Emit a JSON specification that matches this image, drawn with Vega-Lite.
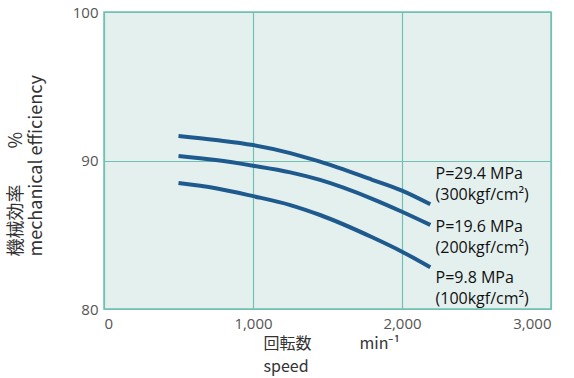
{
  "$schema": "https://vega.github.io/schema/vega-lite/v6.json",
  "width": 447,
  "height": 297,
  "autosize": {"type": "none"},
  "padding": {"left": 104, "top": 12, "right": 23, "bottom": 69},
  "background": "white",
  "config": {
    "view": {"fill": "#e4f0ee", "stroke": "#72c0b4", "strokeWidth": 1.5},
    "font": "Open Sans"
  },
  "datasets": {
    "curves": [
      {"series": "29.4", "speed": 500, "eff": 91.65},
      {"series": "29.4", "speed": 750, "eff": 91.38},
      {"series": "29.4", "speed": 1000, "eff": 91.04},
      {"series": "29.4", "speed": 1250, "eff": 90.5},
      {"series": "29.4", "speed": 1450, "eff": 89.92},
      {"series": "29.4", "speed": 1800, "eff": 88.7},
      {"series": "29.4", "speed": 2000, "eff": 87.97},
      {"series": "29.4", "speed": 2190, "eff": 87.05},
      {"series": "19.6", "speed": 500, "eff": 90.3},
      {"series": "19.6", "speed": 750, "eff": 90.03},
      {"series": "19.6", "speed": 1000, "eff": 89.65},
      {"series": "19.6", "speed": 1250, "eff": 89.2},
      {"series": "19.6", "speed": 1450, "eff": 88.69},
      {"series": "19.6", "speed": 1800, "eff": 87.42},
      {"series": "19.6", "speed": 2000, "eff": 86.55},
      {"series": "19.6", "speed": 2190, "eff": 85.66},
      {"series": "9.8", "speed": 500, "eff": 88.48},
      {"series": "9.8", "speed": 750, "eff": 88.13},
      {"series": "9.8", "speed": 1000, "eff": 87.6},
      {"series": "9.8", "speed": 1250, "eff": 87.0},
      {"series": "9.8", "speed": 1450, "eff": 86.33},
      {"series": "9.8", "speed": 1800, "eff": 84.83},
      {"series": "9.8", "speed": 2000, "eff": 83.86},
      {"series": "9.8", "speed": 2190, "eff": 82.81}
    ],
    "labels": [
      {"series": "29.4", "speed": 2225, "eff": 89.1, "text": "P=29.4 MPa\n(300kgf/cm²)"},
      {"series": "19.6", "speed": 2225, "eff": 85.5, "text": "P=19.6 MPa\n(200kgf/cm²)"},
      {"series": "9.8", "speed": 2225, "eff": 82.1, "text": "P=9.8 MPa\n(100kgf/cm²)"}
    ]
  },
  "layer": [
    {
      "data": {"name": "curves"},
      "mark": {"type": "line", "interpolate": "monotone", "color": "#1f5a8e", "strokeWidth": 4, "strokeCap": "butt"},
      "encoding": {
        "x": {
          "field": "speed", "type": "quantitative",
          "scale": {"domain": [0, 3000], "nice": false},
          "axis": {
            "values": [0, 1000, 2000, 3000],
            "format": ",d",
            "grid": true, "gridColor": "#72c0b4", "gridWidth": 1.2, "gridOpacity": 1,
            "domain": false, "ticks": false,
            "labelFont": "Open Sans", "labelFontSize": 15, "labelColor": "#555555", "labelPadding": 7,
            "title": ["回転数\u2003\u2003\u2003min⁻¹", "speed"],
            "titleFont": "Noto Sans CJK JP", "titleFontSize": 16, "titleFontWeight": "normal", "titleColor": "#333333",
            "titleAlign": "left", "titleAnchor": "start", "titleBaseline": "top",
            "titleX": 159, "titleY": 26, "titleLineHeight": 23
          }
        },
        "y": {
          "field": "eff", "type": "quantitative",
          "scale": {"domain": [80, 100], "nice": false, "zero": false},
          "axis": {
            "values": [80, 90, 100],
            "grid": true, "gridColor": "#72c0b4", "gridWidth": 1.2, "gridOpacity": 1,
            "domain": false, "ticks": false,
            "labelFont": "Open Sans", "labelFontSize": 15, "labelColor": "#555555", "labelPadding": 6,
            "title": ["機械効率\u2003\u2003%", "mechanical efficiency"],
            "titleFont": "Noto Sans CJK JP", "titleFontSize": 18, "titleFontWeight": "normal", "titleColor": "#333333",
            "titleAngle": -90, "titleAlign": "left", "titleBaseline": "top",
            "titleX": -97, "titleY": 244, "titleLineHeight": 20
          }
        },
        "detail": {"field": "series"}
      }
    },
    {
      "data": {"name": "labels"},
      "mark": {"type": "text", "align": "left", "baseline": "middle", "lineBreak": "\n", "lineHeight": 21, "fontSize": 16, "font": "Open Sans", "color": "#111111"},
      "encoding": {
        "x": {"field": "speed", "type": "quantitative"},
        "y": {"field": "eff", "type": "quantitative"},
        "text": {"field": "text"}
      }
    }
  ]
}
